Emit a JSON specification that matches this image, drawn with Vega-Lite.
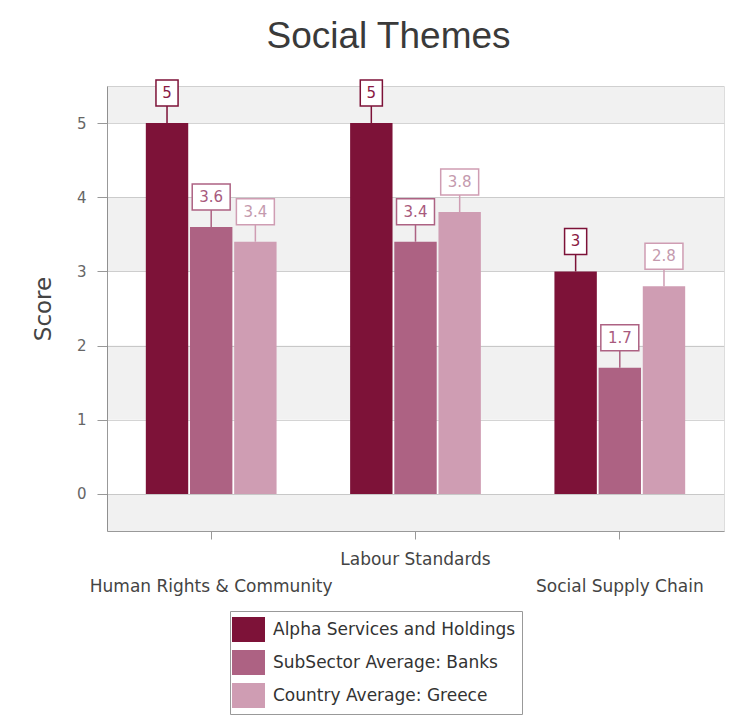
{
  "$schema": "https://vega.github.io/schema/vega-lite/v6.json",
  "width": 617,
  "height": 445,
  "autosize": {"type": "none"},
  "padding": {"left": 107, "top": 86, "right": 7, "bottom": 192},
  "background": "#ffffff",
  "title": {
    "text": "Social Themes",
    "font": "Liberation Sans",
    "fontSize": 37,
    "fontWeight": "normal",
    "color": "#3a3a3a",
    "anchor": "middle",
    "dx": -27,
    "offset": 21
  },
  "datasets": {
    "scores": [
      {"theme": "Human Rights & Community", "series": "Alpha Services and Holdings", "score": 5},
      {"theme": "Human Rights & Community", "series": "SubSector Average: Banks", "score": 3.6},
      {"theme": "Human Rights & Community", "series": "Country Average: Greece", "score": 3.4},
      {"theme": "Labour Standards", "series": "Alpha Services and Holdings", "score": 5},
      {"theme": "Labour Standards", "series": "SubSector Average: Banks", "score": 3.4},
      {"theme": "Labour Standards", "series": "Country Average: Greece", "score": 3.8},
      {"theme": "Social Supply Chain", "series": "Alpha Services and Holdings", "score": 3},
      {"theme": "Social Supply Chain", "series": "SubSector Average: Banks", "score": 1.7},
      {"theme": "Social Supply Chain", "series": "Country Average: Greece", "score": 2.8}
    ],
    "bands": [
      {"lo": 5, "hi": 5.5},
      {"lo": 3, "hi": 4},
      {"lo": 1, "hi": 2},
      {"lo": -0.5, "hi": 0}
    ]
  },
  "layer": [
    {
      "data": {"name": "bands"},
      "mark": {"type": "rect", "color": "#000000", "opacity": 0.055},
      "encoding": {
        "y": {"field": "lo", "type": "quantitative", "scale": {"domain": [-0.5, 5.5], "nice": false, "zero": false}, "title": "Score"},
        "y2": {"field": "hi"}
      }
    },
    {
      "data": {"name": "scores"},
      "mark": {"type": "bar"},
      "encoding": {
        "x": {
          "field": "theme", "type": "nominal", "title": null,
          "scale": {"paddingInner": 0.36, "paddingOuter": 0.19},
          "axis": {
            "labelAngle": 0,
            "labelFont": "DejaVu Sans",
            "labelFontSize": 17,
            "labelColor": "#444444",
            "labelLimit": 400,
            "labelOverlap": false,
            "labelBaseline": "middle",
            "labelPadding": {"expr": "datum.value === 'Labour Standards' ? 20 : 47"},
            "tickSize": 8,
            "tickColor": "#999999",
            "domainColor": "#999999"
          }
        },
        "xOffset": {
          "field": "series", "type": "nominal",
          "sort": ["Alpha Services and Holdings", "SubSector Average: Banks", "Country Average: Greece"],
          "scale": {"paddingInner": 0.04, "paddingOuter": 0}
        },
        "y": {
          "field": "score", "type": "quantitative",
          "scale": {"domain": [-0.5, 5.5], "nice": false, "zero": false},
          "title": "Score",
          "axis": {
            "values": [0, 1, 2, 3, 4, 5],
            "format": "d",
            "grid": true,
            "gridColor": "#d4d4d4",
            "domainColor": "#999999",
            "tickColor": "#999999",
            "tickSize": 10,
            "labelFont": "DejaVu Sans",
            "labelFontSize": 15,
            "labelColor": "#666666",
            "labelPadding": 11,
            "titleFont": "DejaVu Sans",
            "titleFontSize": 23,
            "titleFontWeight": "normal",
            "titleColor": "#444444",
            "titlePadding": 21
          }
        },
        "color": {
          "field": "series", "type": "nominal",
          "scale": {
            "domain": ["Alpha Services and Holdings", "SubSector Average: Banks", "Country Average: Greece"],
            "range": ["#7d1238", "#ad6283", "#cf9db3"]
          },
          "legend": {
            "title": null,
            "orient": "none",
            "legendX": 123,
            "legendY": 525,
            "direction": "vertical",
            "symbolType": "M-1.32,-1H1.32V1H-1.32Z",
            "symbolSize": 625,
            "symbolStrokeWidth": 0,
            "symbolOpacity": 1,
            "labelFont": "DejaVu Sans",
            "labelFontSize": 17,
            "labelColor": "#333333",
            "labelLimit": 400,
            "labelOffset": 12,
            "rowPadding": 8,
            "padding": 6,
            "strokeColor": "#999999",
            "fillColor": "#ffffff"
          }
        }
      }
    },
    {
      "data": {"name": "scores"},
      "mark": {"type": "point", "filled": true, "fill": "#ffffff", "strokeWidth": 1.5, "opacity": 1, "yOffset": -30, "size": 676},
      "encoding": {
        "x": {"field": "theme", "type": "nominal"},
        "xOffset": {"field": "series", "type": "nominal", "sort": ["Alpha Services and Holdings", "SubSector Average: Banks", "Country Average: Greece"]},
        "y": {"field": "score", "type": "quantitative"},
        "shape": {
          "condition": {"test": "floor(datum.score) === datum.score", "value": "M-0.85,-1H0.85V1H-0.85Z M0,1V2.31"},
          "value": "M-1.46,-1H1.46V1H-1.46Z M0,1V2.31"
        },
        "stroke": {
          "field": "series", "type": "nominal",
          "scale": {
            "domain": ["Alpha Services and Holdings", "SubSector Average: Banks", "Country Average: Greece"],
            "range": ["#7d1238", "#ad6283", "#cf9db3"]
          },
          "legend": null
        }
      }
    },
    {
      "data": {"name": "scores"},
      "mark": {"type": "text", "yOffset": -30, "baseline": "middle", "align": "center", "font": "DejaVu Sans", "fontSize": 15},
      "encoding": {
        "x": {"field": "theme", "type": "nominal"},
        "xOffset": {"field": "series", "type": "nominal", "sort": ["Alpha Services and Holdings", "SubSector Average: Banks", "Country Average: Greece"]},
        "y": {"field": "score", "type": "quantitative"},
        "text": {"field": "score", "type": "quantitative"},
        "fill": {
          "field": "series", "type": "nominal",
          "scale": {
            "domain": ["Alpha Services and Holdings", "SubSector Average: Banks", "Country Average: Greece"],
            "range": ["#8a1a44", "#a85a7d", "#c49aae"]
          },
          "legend": null
        }
      }
    }
  ],
  "config": {
    "view": {"stroke": "#dddddd"}
  }
}
